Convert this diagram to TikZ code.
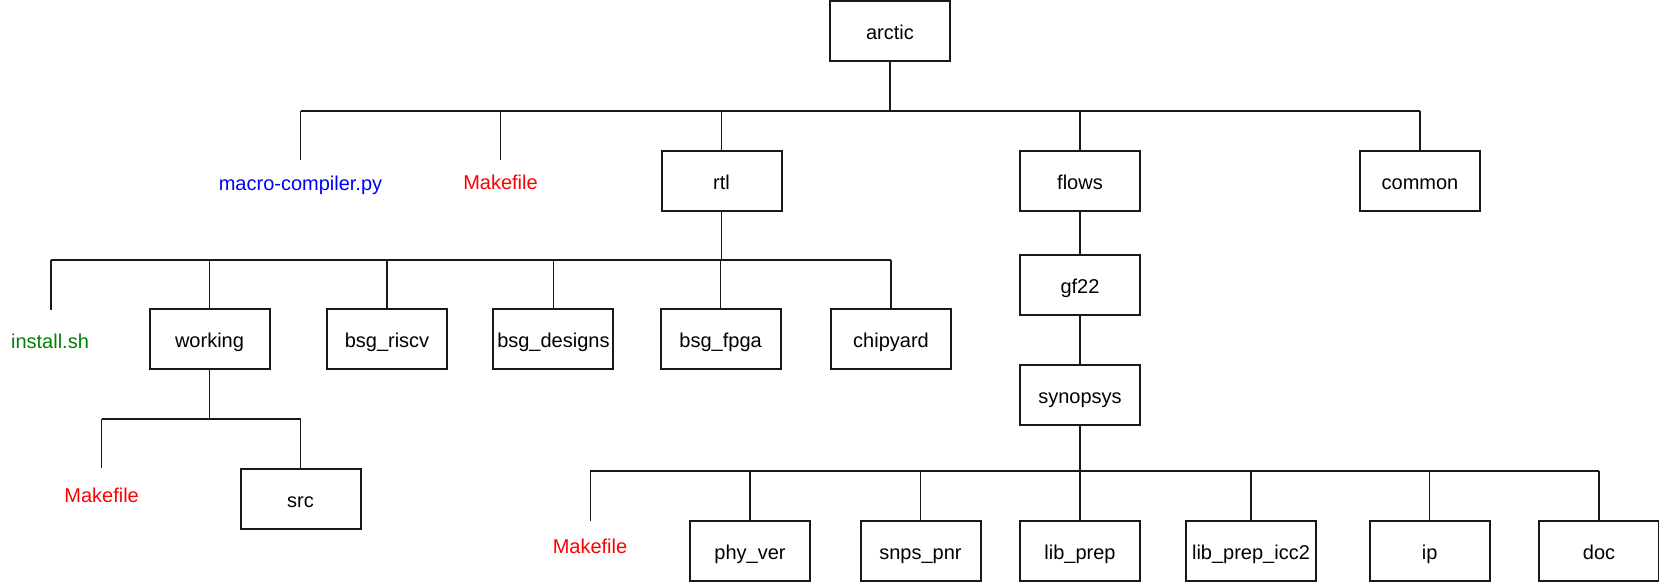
\documentclass[tikz,border=0pt]{standalone}
\usepackage{fontspec}
\setmainfont{Liberation Sans}
\definecolor{fblue}{RGB}{0,0,255}
\definecolor{fred}{RGB}{255,0,0}
\definecolor{fgreen}{RGB}{0,128,0}
\begin{document}
\begin{tikzpicture}[x=0.75pt,y=-0.75pt,
  box/.style={draw=black!90, line width=1.5pt, minimum width=90pt, minimum height=45pt, inner sep=0pt, text height=16pt, text depth=3.2pt, font=\fontsize{15}{18}\selectfont},
  leaf/.style={font=\fontsize{15}{18}\selectfont, inner sep=0pt, text height=16pt, text depth=3.2pt},
  wire/.style={draw=black!90, line width=1.2pt}]
\useasboundingbox (0,0) rectangle (1659,582);
% level 0
\node[box] (arctic) at (890,31) {arctic};
% level 1
\coordinate (b1) at (0,111);
\node[leaf,text=fblue] (macro) at (300.5,182) {macro-compiler.py};
\coordinate (macroTop) at (300.5,160);
\node[leaf,text=fred] (mk1) at (500.5,181) {Makefile};
\coordinate (mk1Top) at (500.5,160);
\node[box] (rtl) at (721.5,180.5) {rtl};
\node[box] (flows) at (1080,181) {flows};
\node[box] (common) at (1420,181) {common};
\draw[wire] (arctic.south) -- (arctic.south |- b1);
\draw[wire] (macroTop |- b1) -- (common.north |- b1);
\draw[wire] (macroTop |- b1) -- (macroTop);
\draw[wire] (mk1Top |- b1) -- (mk1Top);
\draw[wire] (rtl.north |- b1) -- (rtl.north);
\draw[wire] (flows.north |- b1) -- (flows.north);
\draw[wire] (common.north |- b1) -- (common.north);
% rtl children
\coordinate (b2) at (0,260);
\node[leaf,text=fgreen] (inst) at (50,340) {install.sh};
\coordinate (instTop) at (50.8,310);
\node[box] (working) at (209.5,339) {working};
\node[box] (riscv) at (387,339) {bsg\_riscv};
\node[box] (designs) at (553.4,339) {bsg\_designs};
\node[box] (fpga) at (720.6,339) {bsg\_fpga};
\node[box] (chipyard) at (891,339) {chipyard};
\draw[wire] (rtl.south) -- (rtl.south |- b2);
\draw[wire] (instTop |- b2) -- (chipyard.north |- b2);
\draw[wire] (instTop |- b2) -- (instTop);
\draw[wire] (working.north |- b2) -- (working.north);
\draw[wire] (riscv.north |- b2) -- (riscv.north);
\draw[wire] (designs.north |- b2) -- (designs.north);
\draw[wire] (fpga.north |- b2) -- (fpga.north);
\draw[wire] (chipyard.north |- b2) -- (chipyard.north);
% working children
\coordinate (b3) at (0,419);
\node[leaf,text=fred] (mk2) at (101.6,494) {Makefile};
\coordinate (mk2Top) at (101.6,467.7);
\node[box] (src) at (300.5,499) {src};
\draw[wire] (working.south) -- (working.south |- b3);
\draw[wire] (mk2Top |- b3) -- (src.north |- b3);
\draw[wire] (mk2Top |- b3) -- (mk2Top);
\draw[wire] (src.north |- b3) -- (src.north);
% flows chain
\node[box] (gf22) at (1080,285) {gf22};
\node[box] (synopsys) at (1080,395) {synopsys};
\draw[wire] (flows.south) -- (gf22.north);
\draw[wire] (gf22.south) -- (synopsys.north);
% synopsys children
\coordinate (b4) at (0,471);
\node[leaf,text=fred] (mk3) at (590,545) {Makefile};
\coordinate (mk3Top) at (590.4,520.6);
\node[box] (phy) at (750,551) {phy\_ver};
\node[box] (pnr) at (920.5,551) {snps\_pnr};
\node[box] (libprep) at (1080,551) {lib\_prep};
\node[box, minimum width=97.5pt] (icc2) at (1251,551) {lib\_prep\_icc2};
\node[box] (ip) at (1429.6,551) {ip};
\node[box] (doc) at (1599,551) {doc};
\draw[wire] (synopsys.south) -- (synopsys.south |- b4);
\draw[wire] (mk3Top |- b4) -- (doc.north |- b4);
\draw[wire] (mk3Top |- b4) -- (mk3Top);
\foreach \n in {phy,pnr,libprep,icc2,ip,doc}
  \draw[wire] (\n.north |- b4) -- (\n.north);
\end{tikzpicture}
\end{document}
